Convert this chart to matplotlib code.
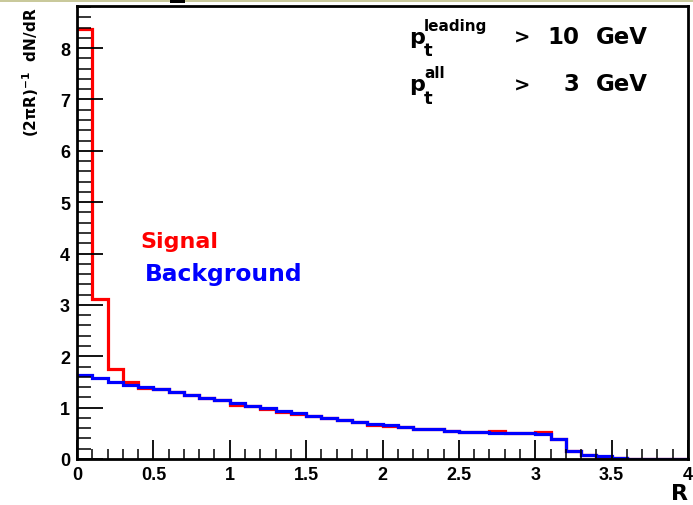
import numpy as np
import matplotlib.pyplot as plt
from matplotlib.patches import Rectangle

plt.rcParams['font.family'] = ['Liberation Sans', 'DejaVu Sans']
plt.rcParams['mathtext.fontset'] = 'custom'
plt.rcParams['mathtext.rm'] = 'DejaVu Sans:bold'
plt.rcParams['mathtext.it'] = 'DejaVu Sans:bold'
plt.rcParams['mathtext.bf'] = 'DejaVu Sans:bold'
WIDE = ['DejaVu Sans']

# histogram binning: 40 bins of width 0.1 in R
bin_edges = np.linspace(0, 4, 41)

signal = [8.38, 3.11, 1.76, 1.50, 1.39, 1.36, 1.30, 1.25, 1.19, 1.14,
          1.06, 1.04, 0.97, 0.92, 0.87, 0.84, 0.80, 0.76, 0.73, 0.67,
          0.64, 0.62, 0.59, 0.58, 0.55, 0.53, 0.53, 0.54, 0.51, 0.51,
          0.52, 0.38, 0.15, 0.08, 0.02, 0.02, 0.0, 0.0, 0.0, 0.0]

background = [1.63, 1.57, 1.49, 1.45, 1.41, 1.36, 1.30, 1.25, 1.19, 1.14,
              1.09, 1.04, 0.99, 0.94, 0.89, 0.84, 0.80, 0.76, 0.73, 0.69,
              0.67, 0.62, 0.59, 0.58, 0.55, 0.53, 0.53, 0.51, 0.51, 0.51,
              0.48, 0.38, 0.15, 0.08, 0.05, 0.02, 0.0, 0.0, 0.0, 0.0]

x_ticks = [0, 0.5, 1, 1.5, 2, 2.5, 3, 3.5, 4]
x_tick_labels = ['0', '0.5', '1', '1.5', '2', '2.5', '3', '3.5', '4']
y_ticks = [0, 1, 2, 3, 4, 5, 6, 7, 8]

W, H = 693, 506
fig = plt.figure(figsize=(6.93, 5.06), dpi=100)
# slide strip at the very top
fig.patches.append(Rectangle((0, 1 - 3 / H), 1, 3 / H, transform=fig.transFigure,
                             facecolor='#c9c99b', edgecolor='none'))
fig.patches.append(Rectangle((170 / W, 1 - 4 / H), 15 / W, 4 / H,
                             transform=fig.transFigure, facecolor='black', edgecolor='none'))

ax = fig.add_axes([77 / W, 46 / H, 611 / W, 453.5 / H])

ax.stairs(signal, bin_edges, color='#ff0000', linewidth=2.3, baseline=None)
ax.stairs(background, bin_edges, color='#0000ff', linewidth=2.3, baseline=None)

ax.set_xlim(0, 4)
ax.set_ylim(0, 8.83)

ax.set_xticks(x_ticks)
ax.set_xticklabels(x_tick_labels)
ax.set_xticks(np.arange(0, 4.01, 0.1), minor=True)
ax.set_yticks(y_ticks)
ax.set_yticks(np.arange(0, 8.81, 0.2), minor=True)

ax.tick_params(axis='x', which='major', direction='in', length=14, width=1.3,
               labelsize=13, pad=5)
ax.tick_params(axis='x', which='minor', direction='in', length=7, width=1.1)
ax.tick_params(axis='y', which='major', direction='in', length=19, width=1.3,
               labelsize=13, pad=5)
ax.tick_params(axis='y', which='minor', direction='in', length=10, width=1.1)
for lab in ax.get_xticklabels() + ax.get_yticklabels():
    lab.set_fontweight('bold')

for sp in ax.spines.values():
    sp.set_linewidth(2)

fig.text(31 / W, 1 - 7 / H, r'(2$\pi$R)$^{-1}$  dN/dR', family=WIDE,
         rotation=90, fontsize=11, fontweight='bold', ha='center', va='top')
fig.text(688 / W, 1 - 500 / H, 'R', family=WIDE, fontsize=16, fontweight='bold',
         ha='right', va='baseline')

# labels for the two samples
fig.text(140 / W, 1 - 248 / H, 'Signal', family=WIDE, color='#ff0000',
         fontsize=16, fontweight='bold', ha='left', va='baseline')
fig.text(145 / W, 1 - 281.5 / H, 'Background', family=WIDE, color='#0000ff',
         fontsize=16.8, fontweight='bold', ha='left', va='baseline')

# cut annotations
def cut_label(y_base, sup, value):
    fig.text(409 / W, 1 - y_base / H, 'p', family=WIDE, fontsize=16, fontweight='bold',
             ha='left', va='baseline')
    fig.text(424 / W, 1 - (y_base + 13) / H, 't', family=WIDE, fontsize=13,
             fontweight='bold', ha='left', va='baseline')
    fig.text(424 / W, 1 - (y_base - 13) / H, sup, family=WIDE, fontsize=11,
             fontweight='bold', ha='left', va='baseline')
    fig.text(522.5 / W, 1 - y_base / H, '>', family=WIDE, fontsize=14,
             fontweight='bold', ha='center', va='baseline')
    fig.text(579 / W, 1 - y_base / H, value, family=WIDE, fontsize=16.5,
             fontweight='bold', ha='right', va='baseline')
    fig.text(621.5 / W, 1 - y_base / H, 'GeV', family=WIDE, fontsize=16.5,
             fontweight='bold', ha='center', va='baseline')

cut_label(43.5, 'leading', '10')
cut_label(91.5, 'all', '3')

fig.savefig('out.png', dpi=100)
